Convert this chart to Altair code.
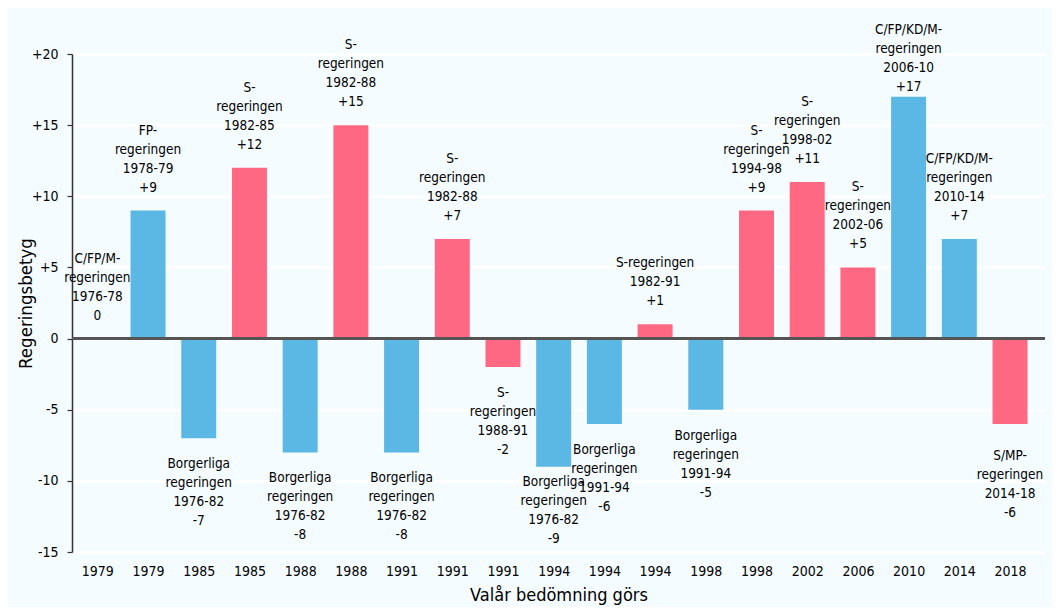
import altair as alt
import pandas as pd

years = ["1979", "1979", "1985", "1985", "1988", "1988", "1991", "1991", "1991",
         "1994", "1994", "1994", "1998", "1998", "2002", "2006", "2010", "2014", "2018"]
governments = ["C/FP/M-\nregeringen", "FP-\nregeringen", "Borgerliga\nregeringen", "S-\nregeringen",
               "Borgerliga\nregeringen", "S-\nregeringen", "Borgerliga\nregeringen", "S-\nregeringen",
               "S-\nregeringen", "Borgerliga\nregeringen", "Borgerliga\nregeringen", "S-regeringen",
               "Borgerliga\nregeringen", "S-\nregeringen", "S-\nregeringen", "S-\nregeringen",
               "C/FP/KD/M-\nregeringen", "C/FP/KD/M-\nregeringen", "S/MP-\nregeringen"]
periods = ["1976-78", "1978-79", "1976-82", "1982-85", "1976-82", "1982-88", "1976-82", "1982-88",
           "1988-91", "1976-82", "1991-94", "1982-91", "1991-94", "1994-98", "1998-02", "2002-06",
           "2006-10", "2010-14", "2014-18"]
values = [0, 9, -7, 12, -8, 15, -8, 7, -2, -9, -6, 1, -5, 9, 11, 5, 17, 7, -6]
blocs = ["B", "B", "B", "S", "B", "S", "B", "S", "S", "B", "B", "S", "B", "S", "S", "S", "B", "B", "S"]


def fmt(v):
    return ("+%d" % v) if v > 0 else str(v)


df = pd.DataFrame({
    "idx": list(range(len(values))),
    "year": years,
    "value": values,
    "bloc": blocs,
    "label": [g + "\n" + p + "\n" + fmt(v) for g, p, v in zip(governments, periods, values)],
})

FONT = "DejaVu Sans Condensed, Liberation Sans, sans-serif"
FS = 13.5
TFS = 14
year_js = "[" + ",".join("'%s'" % y for y in years) + "]"

xscale = alt.Scale(domain=[-0.5, 18.69], nice=False, zero=False)
yscale = alt.Scale(domain=[-15, 20], nice=False)

base = alt.Chart(df)

bars = base.transform_calculate(
    x0="datum.idx - 0.345", x1="datum.idx + 0.345"
).mark_bar().encode(
    x=alt.X("x0:Q", scale=xscale,
            axis=alt.Axis(values=list(range(len(years))), labelExpr=year_js + "[datum.value]",
                          grid=False, ticks=False, domain=False, labelFontSize=TFS,
                          labelPadding=12, labelColor="#000", labelFont=FONT,
                          title="Valår bedömning görs", titleFontSize=18,
                          titleFontWeight="normal", titleFont=FONT, titleColor="#000",
                          titlePadding=8)),
    x2="x1:Q",
    y=alt.Y("value:Q", scale=yscale,
            axis=alt.Axis(values=[-15, -10, -5, 0, 5, 10, 15, 20],
                          labelExpr="datum.value > 0 ? '+' + datum.value : '' + datum.value",
                          grid=True, gridColor="#ffffff", gridWidth=2.5,
                          domainColor="#333", domainWidth=1.5, tickColor="#333", tickSize=5,
                          tickWidth=1.2, labelFontSize=TFS, labelPadding=9, labelColor="#000",
                          labelFont=FONT, title="Regeringsbetyg", titleFontSize=18.5,
                          titleFontWeight="normal", titleFont=FONT, titleColor="#000",
                          titlePadding=-4)),
    y2=alt.Y2(datum=0),
    color=alt.Color("bloc:N", scale=alt.Scale(domain=["B", "S"], range=["#5BB7E4", "#FF6882"]),
                    legend=None),
)

zero = alt.Chart(df).mark_rule(color="#555", strokeWidth=1.5).encode(y=alt.Y(datum=0))


def label_layer(cond, dy):
    return base.transform_filter(cond).mark_text(
        baseline="top", dy=dy, fontSize=FS, font=FONT, lineBreak="\n",
        lineHeight=19, color="#000").encode(
        x=alt.X("idx:Q", scale=xscale), y=alt.Y("value:Q", scale=yscale), text="label:N")


texts = [
    label_layer("datum.value >= 0 && datum.idx != 11 && datum.idx != 16", -87),
    label_layer("datum.idx == 11", -68),
    label_layer("datum.idx == 16", -74),
    label_layer("datum.value < 0 && datum.idx != 9 && datum.idx != 18", 19),
    label_layer("datum.idx == 9", 8),
    label_layer("datum.idx == 18", 25),
]

chart = alt.layer(bars, zero, *texts).properties(
    width=973, height=498, background="#F5FCFF",
    autosize=alt.AutoSizeParams(type="none"),
    padding={"left": 64, "top": 46, "right": 7, "bottom": 55},
).configure_view(stroke=None)

chart.save("out.html", embed_options={"renderer": "svg", "actions": False})
